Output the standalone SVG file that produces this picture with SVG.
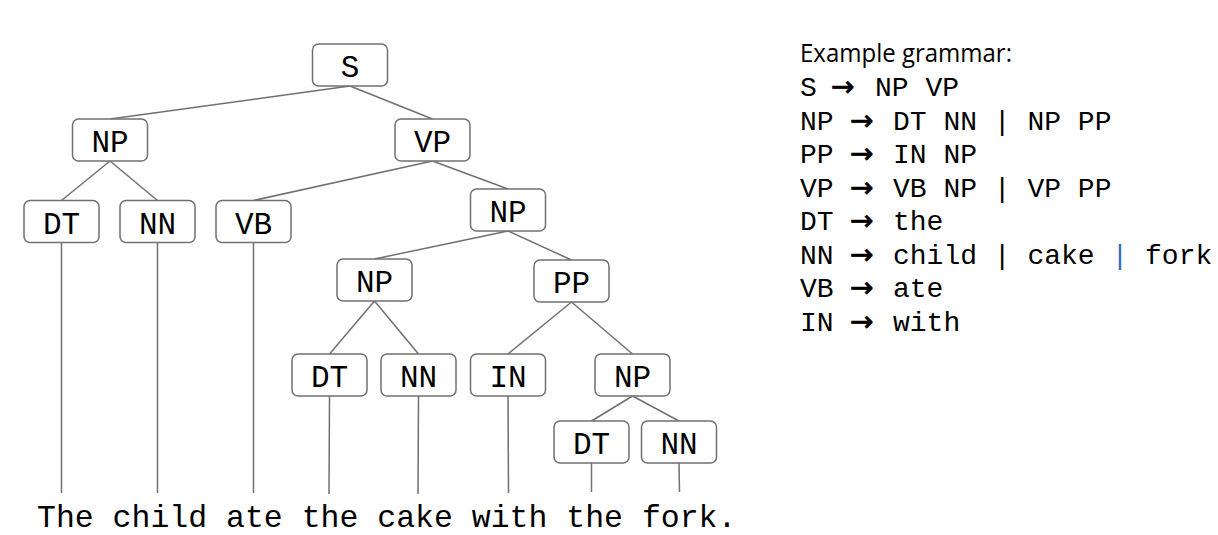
<svg xmlns="http://www.w3.org/2000/svg" width="1218" height="535" viewBox="0 0 1218 535">
<style>
.box{fill:#ffffff;stroke:#707070;stroke-width:1.5}
.lbl{font-family:"Liberation Mono","Courier New",monospace;font-size:31px;fill:#000;text-anchor:middle}
.edge{stroke:#707070;stroke-width:1.5;fill:none}
.g{font-family:"Liberation Mono","Courier New",monospace;font-size:28px;fill:#000}
.arr{font-family:"DejaVu Sans",sans-serif;font-size:28px;fill:#000;stroke:#000;stroke-width:0.8}
.sent{font-family:"Liberation Mono","Courier New",monospace;font-size:31.5px;fill:#000}
</style>
<rect width="1218" height="535" fill="#ffffff"/>
<g id="connectors">
<line class="edge" x1="350" y1="86" x2="110" y2="119"/>
<line class="edge" x1="350" y1="86" x2="432.5" y2="119"/>
<line class="edge" x1="110" y1="161" x2="61.5" y2="200.5"/>
<line class="edge" x1="110" y1="161" x2="157.5" y2="200.5"/>
<line class="edge" x1="432.5" y1="161" x2="253.5" y2="200.5"/>
<line class="edge" x1="432.5" y1="161" x2="508" y2="189"/>
<line class="edge" x1="508" y1="231" x2="374.5" y2="259"/>
<line class="edge" x1="508" y1="231" x2="571.5" y2="260"/>
<line class="edge" x1="374.5" y1="301" x2="329.5" y2="354"/>
<line class="edge" x1="374.5" y1="301" x2="418.5" y2="354"/>
<line class="edge" x1="571.5" y1="302" x2="508" y2="354"/>
<line class="edge" x1="571.5" y1="302" x2="632.5" y2="354"/>
<line class="edge" x1="632.5" y1="396" x2="591.5" y2="421"/>
<line class="edge" x1="632.5" y1="396" x2="679" y2="421"/>
<line class="edge" x1="61.5" y1="242.5" x2="61.5" y2="493"/>
<line class="edge" x1="157.5" y1="242.5" x2="157.5" y2="493"/>
<line class="edge" x1="253.5" y1="242.5" x2="253.5" y2="493"/>
<line class="edge" x1="329.5" y1="396" x2="329" y2="494"/>
<line class="edge" x1="418.5" y1="396" x2="418" y2="494"/>
<line class="edge" x1="508" y1="396" x2="508.5" y2="493"/>
<line class="edge" x1="591.5" y1="463" x2="591.5" y2="492"/>
<line class="edge" x1="679" y1="463" x2="679.5" y2="492"/>
</g>
<g id="n_S"><rect class="box" x="312.5" y="44" width="75" height="42" rx="6"/><text class="lbl" x="350" y="77">S</text></g>
<g id="n_NP1"><rect class="box" x="72.5" y="119" width="75" height="42" rx="6"/><text class="lbl" x="110" y="152">NP</text></g>
<g id="n_VP"><rect class="box" x="395" y="119" width="75" height="42" rx="6"/><text class="lbl" x="432.5" y="152">VP</text></g>
<g id="n_DT1"><rect class="box" x="24" y="200.5" width="75" height="42" rx="6"/><text class="lbl" x="61.5" y="233.5">DT</text></g>
<g id="n_NN1"><rect class="box" x="120" y="200.5" width="75" height="42" rx="6"/><text class="lbl" x="157.5" y="233.5">NN</text></g>
<g id="n_VB"><rect class="box" x="216" y="200.5" width="75" height="42" rx="6"/><text class="lbl" x="253.5" y="233.5">VB</text></g>
<g id="n_NP2"><rect class="box" x="470.5" y="189" width="75" height="42" rx="6"/><text class="lbl" x="508" y="222">NP</text></g>
<g id="n_NP3"><rect class="box" x="337" y="259" width="75" height="42" rx="6"/><text class="lbl" x="374.5" y="292">NP</text></g>
<g id="n_PP"><rect class="box" x="534" y="260" width="75" height="42" rx="6"/><text class="lbl" x="571.5" y="293">PP</text></g>
<g id="n_DT2"><rect class="box" x="292" y="354" width="75" height="42" rx="6"/><text class="lbl" x="329.5" y="387">DT</text></g>
<g id="n_NN2"><rect class="box" x="381" y="354" width="75" height="42" rx="6"/><text class="lbl" x="418.5" y="387">NN</text></g>
<g id="n_IN"><rect class="box" x="470.5" y="354" width="75" height="42" rx="6"/><text class="lbl" x="508" y="387">IN</text></g>
<g id="n_NP4"><rect class="box" x="595" y="354" width="75" height="42" rx="6"/><text class="lbl" x="632.5" y="387">NP</text></g>
<g id="n_DT3"><rect class="box" x="554" y="421" width="75" height="42" rx="6"/><text class="lbl" x="591.5" y="454">DT</text></g>
<g id="n_NN3"><rect class="box" x="641.5" y="421" width="75" height="42" rx="6"/><text class="lbl" x="679" y="454">NN</text></g>
<g id="sentence"><text class="sent" x="37" y="527">The child ate the cake with the fork.</text></g>
<g id="grammar">
<text x="800" y="62" font-family="'Open Sans','Noto Sans',sans-serif" font-size="25" fill="#000" textLength="212" lengthAdjust="spacingAndGlyphs">Example grammar:</text>
<text class="g" x="800" y="96">S</text><text class="arr" x="831" y="96">→</text><text class="g" x="875" y="96">NP VP</text>
<text class="g" x="800" y="130">NP</text><text class="arr" x="850" y="130">→</text><text class="g" x="893" y="130">DT NN | NP PP</text>
<text class="g" x="800" y="163">PP</text><text class="arr" x="850" y="163">→</text><text class="g" x="893" y="163">IN NP</text>
<text class="g" x="800" y="197">VP</text><text class="arr" x="850" y="197">→</text><text class="g" x="893" y="197">VB NP | VP PP</text>
<text class="g" x="800" y="230">DT</text><text class="arr" x="850" y="230">→</text><text class="g" x="893" y="230">the</text>
<text class="g" x="800" y="264">NN</text><text class="arr" x="850" y="264">→</text><text class="g" x="893" y="264">child | cake <tspan fill="#2e6fc0">|</tspan> fork</text>
<text class="g" x="800" y="297">VB</text><text class="arr" x="850" y="297">→</text><text class="g" x="893" y="297">ate</text>
<text class="g" x="800" y="331">IN</text><text class="arr" x="850" y="331">→</text><text class="g" x="893" y="331">with</text>
</g>
</svg>
